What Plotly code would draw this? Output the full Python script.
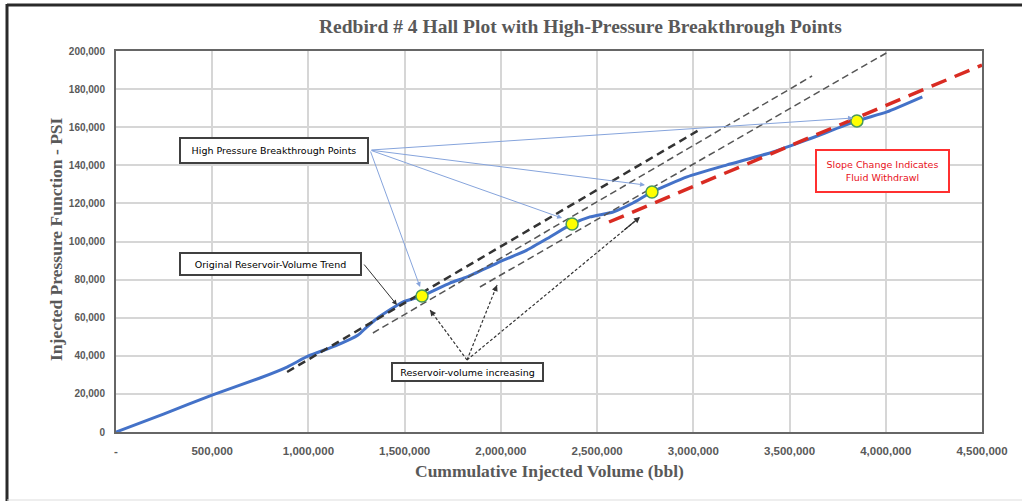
import plotly.graph_objects as go

# ---- data ----
cum_volume = [0, 250000, 499000, 748000, 889000, 1000000, 1140000, 1258000, 1300000,
              1356000, 1490000, 1590000, 1735000, 1824000, 1980000, 2135000, 2255000,
              2370000, 2463000, 2583000, 2686000, 2785000, 2967000, 3175000, 3414000,
              3590000, 3850000, 4006000, 4190000]
pressure_fn = [0, 9500, 19400, 28350, 34100, 39900, 45200, 50900, 54800,
               59600, 68200, 71400, 78200, 81400, 88700, 95500, 102400,
               109200, 112900, 115500, 120200, 126000, 133900, 140200, 147000,
               153300, 163300, 168000, 175900]

breakthrough_x = [1590000, 2370000, 2785000, 3850000]
breakthrough_y = [71400, 109200, 126000, 163300]

orig_trend_x = [889000, 3030000]
orig_trend_y = [31500, 158530]
incr_trend_a_x = [1335000, 3617000]
incr_trend_a_y = [51970, 186880]
incr_trend_b_x = [1891000, 4012000]
incr_trend_b_y = [76120, 199480]
withdrawal_x = [2562000, 4500000]
withdrawal_y = [110240, 192650]

x_ticks = [0, 500000, 1000000, 1500000, 2000000, 2500000, 3000000, 3500000, 4000000, 4500000]
x_tick_text = ["-", "500,000", "1,000,000", "1,500,000", "2,000,000", "2,500,000",
               "3,000,000", "3,500,000", "4,000,000", "4,500,000"]
y_ticks = [0, 20000, 40000, 60000, 80000, 100000, 120000, 140000, 160000, 180000, 200000]
y_tick_text = ["0", "20,000", "40,000", "60,000", "80,000", "100,000", "120,000",
               "140,000", "160,000", "180,000", "200,000"]

title_text = "Redbird # 4 Hall Plot with High-Pressure Breakthrough Points"
x_title = "Cummulative Injected Volume (bbl)"
y_title = "Injected Pressure Function - PSI"

# annotation boxes: (text, x, y, width, height)
hp_box = ("High Pressure Breakthrough Points", 821000, 147770, 186, 23)
orig_box = ("Original Reservoir-Volume Trend", 803000, 88190, 179, 20)
incr_box = ("Reservoir-volume increasing", 1827000, 31500, 149, 16)
slope_box = ("Slope Change Indicates<br>Fluid Withdrawl", 3983000, 137000, 131, 40)

hp_arrow_start = (1320000, 148000)
hp_arrow_ends_x = [1580000, 2318000, 2749000, 3830000]
hp_arrow_ends_y = [76100, 112300, 129660, 164830]

orig_arrow_start = (1283000, 88700)
orig_arrow_end = (1460000, 66670)

incr_arrow_start = (1824000, 37800)
incr_arrow_ends_x = [1632000, 1980000, 2723000]
incr_arrow_ends_y = [64040, 77170, 112860]

fig = go.Figure()

fig.add_trace(go.Scatter(x=cum_volume, y=pressure_fn, mode="lines",
                         line=dict(color="#4472c8", width=3, shape="spline", smoothing=0.5),
                         hoverinfo="skip"))
fig.add_trace(go.Scatter(x=withdrawal_x, y=withdrawal_y, mode="lines",
                         line=dict(color="#d92b22", width=3.5, dash="16px,9px")))
fig.add_trace(go.Scatter(x=incr_trend_a_x, y=incr_trend_a_y, mode="lines",
                         line=dict(color="#555555", width=1.5, dash="7px,4px")))
fig.add_trace(go.Scatter(x=incr_trend_b_x, y=incr_trend_b_y, mode="lines",
                         line=dict(color="#555555", width=1.5, dash="7px,4px")))
fig.add_trace(go.Scatter(x=orig_trend_x, y=orig_trend_y, mode="lines",
                         line=dict(color="#333333", width=2.5, dash="8px,5px")))

# dotted arrow shafts
for ex, ey in zip(incr_arrow_ends_x, incr_arrow_ends_y):
    fig.add_trace(go.Scatter(x=[incr_arrow_start[0], ex], y=[incr_arrow_start[1], ey],
                             mode="lines", line=dict(color="#333333", width=1.2, dash="3px,2px"),
                             hoverinfo="skip"))

fig.add_trace(go.Scatter(x=breakthrough_x, y=breakthrough_y, mode="markers",
                         marker=dict(color="#ffff00", size=12,
                                     line=dict(color="#4a9a5a", width=1.5))))

annotations = []
for ex, ey in zip(hp_arrow_ends_x, hp_arrow_ends_y):
    annotations.append(dict(x=ex, y=ey, ax=hp_arrow_start[0], ay=hp_arrow_start[1],
                            xref="x", yref="y", axref="x", ayref="y", text="",
                            showarrow=True, arrowhead=2, arrowsize=1, arrowwidth=1,
                            arrowcolor="#86a4dc"))
annotations.append(dict(x=orig_arrow_end[0], y=orig_arrow_end[1],
                        ax=orig_arrow_start[0], ay=orig_arrow_start[1],
                        xref="x", yref="y", axref="x", ayref="y", text="",
                        showarrow=True, arrowhead=2, arrowsize=1, arrowwidth=1,
                        arrowcolor="#333333"))
# arrowheads only for dotted arrows
for ex, ey in zip(incr_arrow_ends_x, incr_arrow_ends_y):
    hx = ex - 0.1 * (ex - incr_arrow_start[0])
    hy = ey - 0.1 * (ey - incr_arrow_start[1])
    annotations.append(dict(x=ex, y=ey, ax=hx, ay=hy,
                            xref="x", yref="y", axref="x", ayref="y", text="",
                            showarrow=True, arrowhead=2, arrowsize=1, arrowwidth=1.2,
                            arrowcolor="#333333"))

for (txt, bx, by, bw, bh), col, tcol in [(hp_box, "#404040", "#000000"),
                                         (orig_box, "#404040", "#000000"),
                                         (incr_box, "#404040", "#000000"),
                                         (slope_box, "#ff3030", "#e8101a")]:
    annotations.append(dict(x=bx, y=by, xref="x", yref="y", text=txt, showarrow=False,
                            bordercolor=col, borderwidth=2, borderpad=0, bgcolor="white",
                            width=bw, height=bh, align="center", valign="middle",
                            font=dict(family="DejaVu Sans", size=9.5, color=tcol)))

annotations.append(dict(x=0.536, y=1.063, xref="paper", yref="paper", text="<b>" + title_text + "</b>",
                        showarrow=False, xanchor="center", yanchor="middle",
                        font=dict(family="Liberation Serif", size=19.5, color="#595959")))
annotations.append(dict(x=0.5, y=-0.102, xref="paper", yref="paper", text="<b>" + x_title + "</b>",
                        showarrow=False, xanchor="center", yanchor="middle",
                        font=dict(family="Liberation Serif", size=17.5, color="#595959")))
annotations.append(dict(x=(56 - 116) / 866, y=0.5066, xref="paper", yref="paper",
                        text="<b>" + y_title + "</b>", textangle=-90,
                        showarrow=False, xanchor="center", yanchor="middle",
                        font=dict(family="Liberation Serif", size=17.5, color="#595959")))

shapes = [
    dict(type="line", xref="paper", yref="paper", x0=(7 - 116) / 866, x1=(7 - 116) / 866,
         y0=(432 - 4) / 381, y1=(432 - 501) / 381, line=dict(color="#2a2a2a", width=3)),
    dict(type="line", xref="paper", yref="paper", x0=(7 - 116) / 866, x1=(1022 - 116) / 866,
         y0=(432 - 5) / 381, y1=(432 - 5) / 381, line=dict(color="#2a2a2a", width=3)),
    dict(type="line", xref="paper", yref="paper", x0=(7 - 116) / 866, x1=(1022 - 116) / 866,
         y0=(432 - 500) / 381, y1=(432 - 500) / 381, line=dict(color="#dddddd", width=1)),
]

fig.update_layout(
    width=1022, height=501, autosize=False,
    margin=dict(l=116, r=40, t=51, b=69),
    paper_bgcolor="white", plot_bgcolor="white",
    showlegend=False,
    annotations=annotations, shapes=shapes,
    xaxis=dict(range=[0, 4500000], tickvals=x_ticks, ticktext=x_tick_text,
               showgrid=True, gridcolor="#d6d6d6", gridwidth=1.5,
               showline=True, mirror=True, linecolor="#666666", linewidth=2,
               zeroline=False, ticks="", ticklabelstandoff=7,
               tickfont=dict(family="Liberation Sans", size=11.5, color="#595959")),
    yaxis=dict(range=[0, 200000], tickvals=y_ticks, ticktext=y_tick_text,
               showgrid=True, gridcolor="#d6d6d6", gridwidth=1.5,
               showline=True, mirror=True, linecolor="#666666", linewidth=2,
               zeroline=False, ticks="", ticklabelstandoff=7,
               tickfont=dict(family="Liberation Sans", size=10, color="#595959")),
)
fig.update_xaxes(tickfont_weight="bold")
fig.update_yaxes(tickfont_weight="bold")

fig.write_html("out.html")
